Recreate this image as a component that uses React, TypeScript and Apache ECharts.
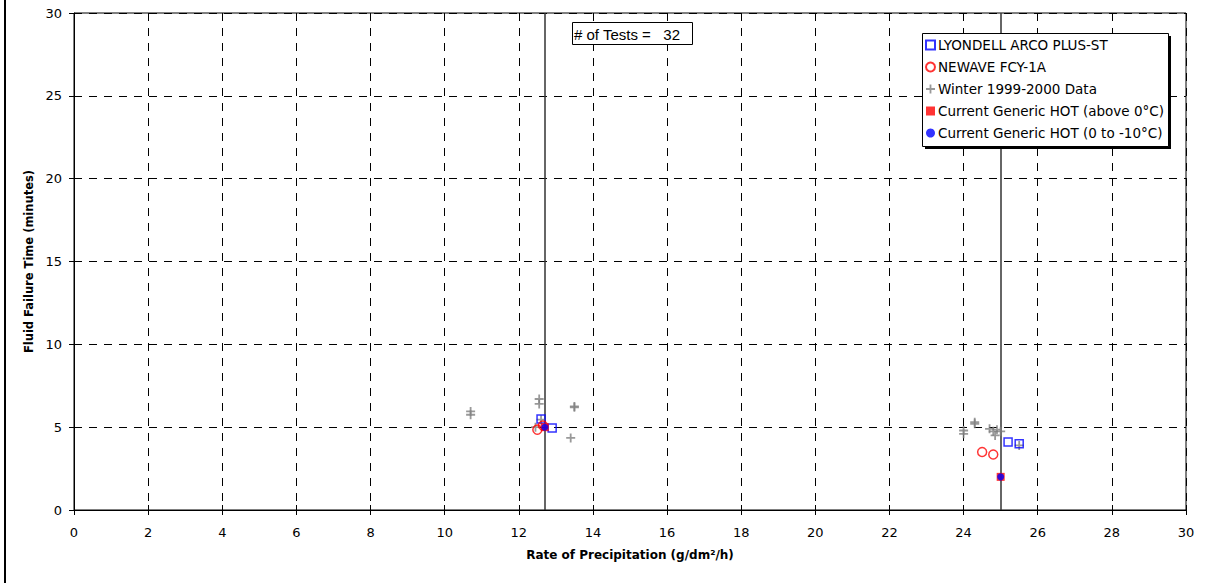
import React, { useEffect, useRef } from "react";
import * as echarts from "echarts";

// ---- data ----
const lyondellX = [12.6, 12.9, 25.2, 25.5];
const lyondellY = [5.5, 4.95, 4.1, 4.0];

const newaveX = [12.5, 12.65, 24.5, 24.8];
const newaveY = [4.85, 5.1, 3.5, 3.35];

const winterX = [10.7, 10.7, 12.55, 12.55, 13.5, 13.5, 13.4, 12.6, 12.45, 24.0, 24.0, 24.3, 24.3, 24.7, 24.8, 24.85, 24.9, 25.0, 25.5];
const winterY = [5.95, 5.75, 6.7, 6.4, 6.25, 6.2, 4.35, 5.45, 5.0, 4.8, 4.6, 5.3, 5.2, 4.9, 4.75, 4.5, 4.85, 4.75, 3.9];

const hotAboveX = [12.7, 25];
const hotAboveY = [5.0, 2.0];

const hotBelowX = [12.7, 25];
const hotBelowY = [5.0, 2.0];

const referenceRates = [12.7, 25];
const testCount = 32;

const seriesNames = [
  "LYONDELL ARCO PLUS-ST",
  "NEWAVE FCY-1A",
  "Winter 1999-2000 Data",
  "Current Generic HOT (above 0°C)",
  "Current Generic HOT (0 to -10°C)",
];

const xTitle = "Rate of Precipitation (g/dm²/h)";
const yTitle = "Fluid Failure Time (minutes)";

const zip = (xs: number[], ys: number[]) => xs.map((x, i) => [x, ys[i]]);

const FONT = "DejaVu Sans";
const CROSS = "path://M4,0H6V4H10V6H6V10H4V6H0V4H4Z";

export default function App() {
  const ref = useRef<HTMLDivElement>(null);
  useEffect(() => {
    if (!ref.current) return;
    const chart = echarts.init(ref.current, undefined, { renderer: "svg" });
    const grid = { left: 74, right: 46, top: 13, bottom: 73, show: true, borderColor: "#000", borderWidth: 1, backgroundColor: "transparent" };
    const baseX = { type: "value", min: 0, max: 30, interval: 2 };
    const baseY = { type: "value", min: 0, max: 30, interval: 5 };
    chart.setOption({
      animation: false,
      backgroundColor: "#fff",
      grid,
      xAxis: [
        {
          ...baseX,
          position: "bottom",
          name: xTitle,
          nameLocation: "middle",
          nameGap: 39,
          nameTextStyle: { fontFamily: FONT, fontWeight: "bold", fontSize: 12, color: "#000" },
          axisLine: { show: true, lineStyle: { color: "#000", width: 1 } },
          axisTick: { show: true, inside: false, length: 5, lineStyle: { color: "#000" } },
          axisLabel: { margin: 16, fontFamily: FONT, fontSize: 13, color: "#000" },
          splitLine: { show: true, lineStyle: { color: "#000", type: [8, 7], width: 1 } },
        },
        {
          ...baseX,
          position: "bottom",
          offset: 0,
          axisLine: { show: false },
          axisTick: { show: true, inside: true, length: 5, lineStyle: { color: "#000" } },
          axisLabel: { show: false },
          splitLine: { show: false },
        },
      ],
      yAxis: [
        {
          ...baseY,
          position: "left",
          name: yTitle,
          nameLocation: "middle",
          nameGap: 36,
          nameRotate: 90,
          nameTextStyle: { fontFamily: FONT, fontWeight: "bold", fontSize: 11.5, color: "#000" },
          axisLine: { show: true, lineStyle: { color: "#000", width: 1 } },
          axisTick: { show: true, inside: false, length: 5, lineStyle: { color: "#000" } },
          axisLabel: { margin: 12, fontFamily: FONT, fontSize: 13, color: "#000" },
          splitLine: { show: true, lineStyle: { color: "#000", type: [8, 7], width: 1 } },
        },
        {
          ...baseY,
          position: "left",
          offset: 0,
          axisLine: { show: false },
          axisTick: { show: true, inside: true, length: 5, lineStyle: { color: "#000" } },
          axisLabel: { show: false },
          splitLine: { show: false },
        },
      ],
      legend: {
        orient: "vertical",
        left: 922,
        top: 33,
        padding: [5, 6, 7, 3],
        itemGap: 8,
        itemWidth: 9,
        itemHeight: 9,
        z: 10,
        textStyle: { fontFamily: FONT, fontSize: 13.5, color: "#000", lineHeight: 14, padding: [0, 0, 0, -2] },
        data: seriesNames.map((n) => ({ name: n })),
      },
      graphic: [
        { type: "rect", z: 8, silent: true, shape: { x: 925, y: 36, width: 246, height: 113 }, style: { fill: "#000" } },
        { type: "rect", z: 9, silent: true, shape: { x: 922.5, y: 33.5, width: 246, height: 113 }, style: { fill: "#fff", stroke: "#000", lineWidth: 1 } },
        { type: "line", z: 20, silent: true, shape: { x1: 5, y1: 0, x2: 5, y2: 583 }, style: { stroke: "#000", lineWidth: 2 } },
        { type: "rect", z: 20, silent: true, shape: { x: 572.5, y: 22.5, width: 120, height: 22 }, style: { fill: "#fff", stroke: "#000", lineWidth: 1 } },
        { type: "text", z: 21, silent: true, x: 574, y: 34, style: { text: `# of Tests =   ${testCount}`, fontFamily: "Liberation Sans", fontSize: 15, fill: "#000", verticalAlign: "middle" } },
      ],
      series: [
        {
          name: seriesNames[0], type: "scatter", symbol: "rect", symbolSize: 8,
          itemStyle: { color: "rgba(0,0,0,0)", borderColor: "#0000ff", borderWidth: 1.5 },
          data: zip(lyondellX, lyondellY), z: 3,
          markLine: {
            silent: true, symbol: "none", label: { show: false },
            lineStyle: { color: "#333", type: "solid", width: 1.5 },
            data: referenceRates.map((r) => ({ xAxis: r })),
            z: 1,
          },
        },
        {
          name: seriesNames[1], type: "scatter", symbol: "circle", symbolSize: 9,
          itemStyle: { color: "rgba(0,0,0,0)", borderColor: "#ff0000", borderWidth: 1.5 },
          data: zip(newaveX, newaveY), z: 3,
        },
        {
          name: seriesNames[2], type: "scatter", symbol: CROSS, symbolSize: 9,
          itemStyle: { color: "#808080" },
          data: zip(winterX, winterY), z: 2,
        },
        {
          name: seriesNames[3], type: "scatter", symbol: "rect", symbolSize: 8,
          itemStyle: { color: "#ff0000" },
          data: zip(hotAboveX, hotAboveY), z: 4,
        },
        {
          name: seriesNames[4], type: "scatter", symbol: "circle", symbolSize: 7,
          itemStyle: { color: "#0000ff" },
          data: zip(hotBelowX, hotBelowY), z: 5,
        },
      ],
    });
    return () => chart.dispose();
  }, []);
  return <div ref={ref} style={{ position: "absolute", left: 0, top: 0, width: 1232, height: 583 }} />;
}
